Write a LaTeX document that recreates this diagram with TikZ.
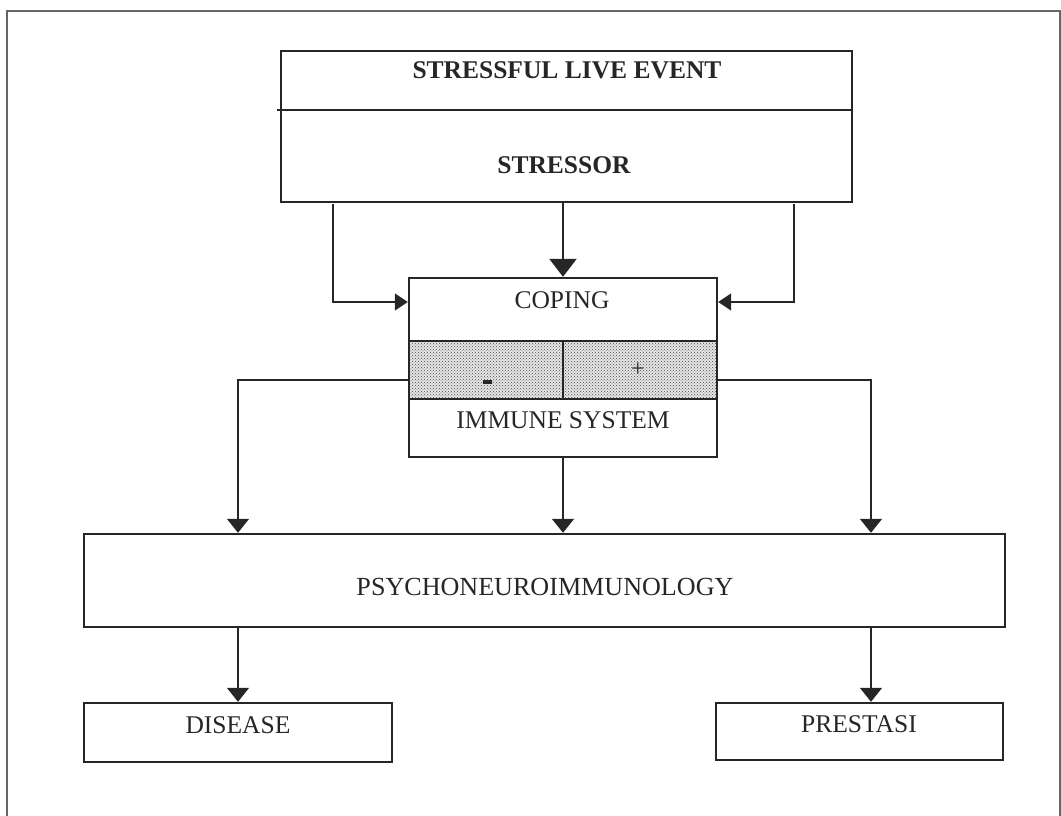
\documentclass[tikz,border=0pt]{standalone}
\usepackage{fontspec}
\setmainfont{Liberation Serif}
\usetikzlibrary{arrows.meta,patterns}
\tikzset{
  box/.style={draw=black!85, line width=2.4pt, rectangle, inner sep=0pt},
  lbl/.style={inner sep=0pt, font=\fontsize{25.5}{26}\selectfont, text=black!85},
  blbl/.style={inner sep=0pt, font=\fontsize{25.5}{26}\selectfont\bfseries, text=black!85},
  conn/.style={draw=black!85, line width=1.5pt},
  tipS/.style={-{Triangle[length=14pt,width=22pt]}},
  tipB/.style={-{Triangle[length=18pt,width=27pt]}},
  tipL/.style={-{Triangle[length=13pt,width=17pt]}}
}
\begin{document}
\begin{tikzpicture}[x=1pt,y=-1pt]
\useasboundingbox (0,0) rectangle (1061,816);
% outer frame
\draw[black!60, line width=1.4pt] (7,816) -- (7,11) -- (1060,11) -- (1060,816);
% top box
\node[box, line width=1.6pt, minimum width=571pt, minimum height=151pt] (top) at (566.5,126.5) {};
\coordinate (divL) at (277,110);
\coordinate (divR) at (852,110);
\draw[conn, line width=1.4pt] (divL) -- (divR);
\node[blbl] (sle) at (567,70) {STRESSFUL LIVE EVENT};
\node[blbl] (stressor) at (564,165) {STRESSOR};
% coping / immune system box
\coordinate (bandTL) at (409,341);
\coordinate (bandBR) at (717,399);
\fill[black!10] (bandTL) rectangle (bandBR);
\fill[pattern=crosshatch dots, pattern color=black!70] (bandTL) rectangle (bandBR);
\node[box, minimum width=308pt, minimum height=179pt] (coping) at (563,367.5) {};
\draw[box] (bandTL) -- (bandTL -| bandBR);
\draw[box] (bandTL |- bandBR) -- (bandBR);
\coordinate (midT) at (563,341);
\coordinate (midB) at (563,399);
\draw[conn, line width=2pt] (midT) -- (midB);
\node[lbl] (copingtxt) at (562,300) {COPING};
\node[lbl] (immtxt) at (563,420) {IMMUNE SYSTEM};
\node[inner sep=0pt, minimum width=9pt, minimum height=3.5pt, fill=black!85] (minus) at (487,382) {};
\node[lbl, font=\fontsize{24}{25}\selectfont] (plus) at (638,370) {+};
% psychoneuroimmunology
\node[box, minimum width=921pt, minimum height=93pt] (psy) at (544.5,580.5) {};
\node[lbl, font=\fontsize{26.1}{27}\selectfont] (psytxt) at (545,587) {PSYCHONEUROIMMUNOLOGY};
% outcomes
\node[box, minimum width=308pt, minimum height=59pt] (dis) at (238,732.5) {};
\node[lbl] (distxt) at (238,725) {DISEASE};
\node[box, minimum width=287pt, minimum height=57pt] (pre) at (859.5,731.5) {};
\node[lbl] (pretxt) at (859,724) {PRESTASI};
% connectors from stressor to coping
\draw[conn, line width=2.4pt, tipB] (coping.north |- top.south) -- (coping.north);
\coordinate (lA) at (333,204);
\coordinate (lB) at (333,302);
\draw[conn, tipL] (lA) -- (lB) -- (lB -| coping.west);
\coordinate (rA) at (794,204);
\coordinate (rB) at (794,302);
\draw[conn, tipL] (rA) -- (rB) -- (rB -| coping.east);
% connectors from immune system to psychoneuroimmunology
\coordinate (l2) at (238,380);
\draw[conn, tipS] (l2 -| coping.west) -- (l2) -- (l2 |- psy.north);
\coordinate (r2) at (871,380);
\draw[conn, tipS] (r2 -| coping.east) -- (r2) -- (r2 |- psy.north);
\draw[conn, tipS] (coping.south) -- (coping.south |- psy.north);
% connectors to outcomes
\draw[conn, tipS] (dis.north |- psy.south) -- (dis.north);
\coordinate (pX) at (871,627);
\draw[conn, tipS] (pX) -- (pX |- pre.north);
\end{tikzpicture}
\end{document}
